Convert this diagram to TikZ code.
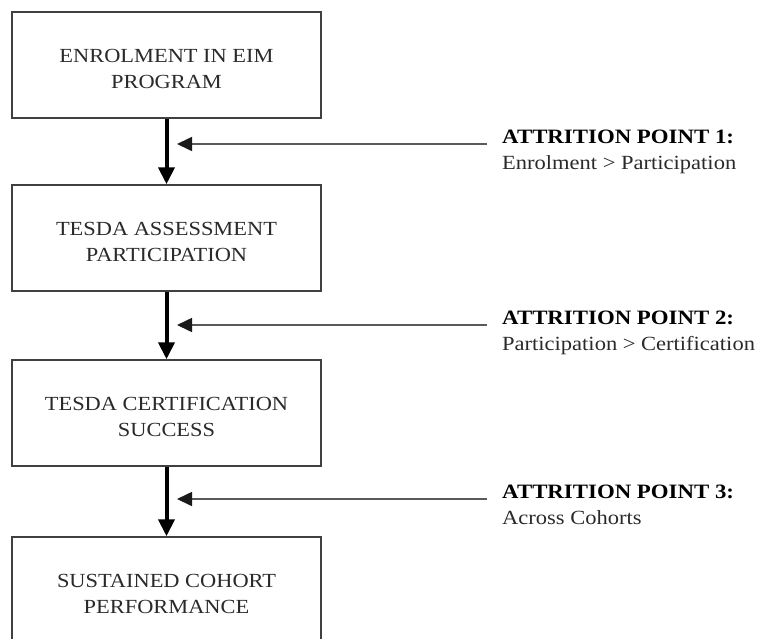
\documentclass[tikz,border=0pt]{standalone}
\usepackage{fontspec}
\setmainfont{Liberation Serif}[FakeStretch=1.12]
\usetikzlibrary{arrows.meta,calc}
\definecolor{boxline}{HTML}{404040}
\definecolor{boxtext}{HTML}{2A2A2A}
\definecolor{hline}{HTML}{5A5A5A}
\definecolor{headcol}{HTML}{1A1A1A}
\begin{document}
\begin{tikzpicture}[x=1pt,y=-1pt,
  stagebox/.style={draw=boxline, line width=1.5pt, minimum width=309pt, minimum height=106pt,
    inner sep=0pt, align=center, text=boxtext, font=\fontsize{20}{25.5}\selectfont},
  flowarrow/.style={line width=4pt, draw=black, -{Triangle[length=17pt,width=16pt]}},
  attrarrow/.style={line width=1.6pt, draw=hline, -{Triangle[length=15pt,width=14pt,color=headcol]}},
  attrtitle/.style={anchor=base west, inner sep=0pt, font=\fontsize{20.4}{24}\selectfont\bfseries, text=black},
  attrsub/.style={anchor=base west, inner sep=0pt, font=\fontsize{20.1}{24}\selectfont, text=boxtext}]
\useasboundingbox (0,0) rectangle (757,638);
\clip (0,0) rectangle (757,638);
\fill[white] (0,0) rectangle (757,638);

\node[stagebox] (b1) at (166.5,65) {\rule{0pt}{21.5pt}ENROLMENT IN EIM\\PROGRAM};
\node[stagebox] (b2) at (166.5,238) {\rule{0pt}{21.5pt}TESDA ASSESSMENT\\PARTICIPATION};
\node[stagebox] (b3) at (166.5,413) {\rule{0pt}{21.5pt}TESDA CERTIFICATION\\SUCCESS};
\node[stagebox] (b4) at (166.5,590) {\rule{0pt}{21.5pt}SUSTAINED COHORT\\PERFORMANCE};

\draw[flowarrow] (b1.south) -- (b2.north);
\draw[flowarrow] (b2.south) -- (b3.north);
\draw[flowarrow] (b3.south) -- (b4.north);

\node[attrtitle] (t1) at (502,143) {ATTRITION POINT 1:};
\node[attrsub] (s1) at (502,169) {Enrolment > Participation};
\node[attrtitle] (t2) at (502,324) {ATTRITION POINT 2:};
\node[attrsub] (s2) at (502,350) {Participation > Certification};
\node[attrtitle] (t3) at (502,498) {ATTRITION POINT 3:};
\node[attrsub] (s3) at (502,524) {Across Cohorts};

\coordinate (a1s) at (487,144);
\coordinate (a1e) at (177,144);
\coordinate (a2s) at (487,325);
\coordinate (a2e) at (177,325);
\coordinate (a3s) at (487,499);
\coordinate (a3e) at (177,499);
\draw[attrarrow] (a1s) -- (a1e);
\draw[attrarrow] (a2s) -- (a2e);
\draw[attrarrow] (a3s) -- (a3e);
\end{tikzpicture}
\end{document}
